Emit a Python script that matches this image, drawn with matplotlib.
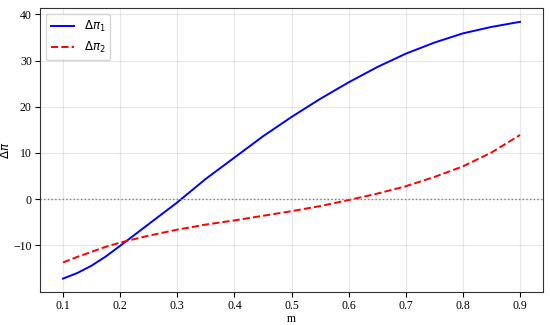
import numpy as np
import matplotlib.pyplot as plt

m = [0.1, 0.125, 0.15, 0.175, 0.2, 0.25, 0.3, 0.35, 0.4, 0.45, 0.5,
     0.55, 0.6, 0.65, 0.7, 0.75, 0.8, 0.85, 0.9]
dpi1 = [-17.2, -16.0, -14.4, -12.4, -10.1, -5.4, -0.7, 4.4, 9.0, 13.6, 17.8,
        21.7, 25.3, 28.6, 31.5, 33.9, 35.9, 37.3, 38.4]
dpi2 = [-13.7, -12.5, -11.4, -10.3, -9.4, -7.9, -6.6, -5.5, -4.6, -3.6, -2.6,
        -1.5, -0.2, 1.2, 2.8, 4.8, 7.1, 10.1, 13.9]

plt.rcParams['font.family'] = 'Liberation Serif'
plt.rcParams['mathtext.fontset'] = 'dejavusans'

fig = plt.figure(figsize=(5.5, 3.25), dpi=100)
ax = fig.add_axes([0.073, 0.103, 0.914, 0.871])

ax.plot(m, dpi1, color='blue', linewidth=1.4, label=r'$\Delta\pi_1$')
ax.plot(m, dpi2, color='red', linestyle='--', linewidth=1.4, label=r'$\Delta\pi_2$')
ax.axhline(0, color='gray', linestyle=':', linewidth=1)

ax.set_ylim(-20.0, 41.3)
ax.set_xticks([0.1, 0.2, 0.3, 0.4, 0.5, 0.6, 0.7, 0.8, 0.9])
ax.set_yticks([-10, 0, 10, 20, 30, 40])
ax.tick_params(labelsize=8.5, pad=2.5)
ax.set_xlabel('m', fontsize=8.5, labelpad=1)
ax.set_ylabel(r'$\Delta\pi$', fontsize=8.5, labelpad=1)
ax.grid(True, alpha=0.3)
for s in ax.spines.values():
    s.set_color('#333333')
ax.legend(loc='upper left', prop={'family': 'DejaVu Sans', 'size': 8.5})

fig.savefig('out.png', dpi=100)
